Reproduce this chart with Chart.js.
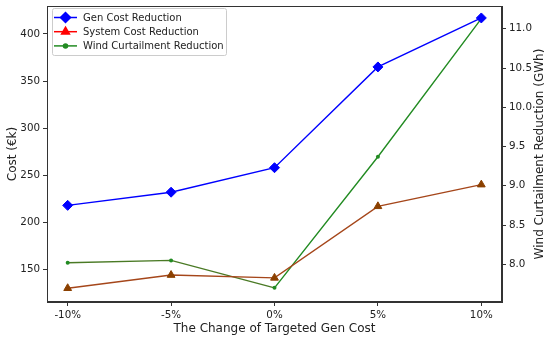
<!DOCTYPE html>
<html>
<head>
<meta charset="utf-8">
<script src="https://cdn.jsdelivr.net/npm/chart.js@4/dist/chart.umd.min.js"></script>
<style>
html,body{margin:0;padding:0;background:#fff;}
#wrap{width:550px;height:337px;position:relative;}
</style>
</head>
<body>
<div id="wrap"><canvas id="c" width="550" height="337"></canvas></div>
<script>
const categories = ['-10%', '-5%', '0%', '5%', '10%'];
const genCost = [218, 232, 258, 365, 417];
const systemCost = [130, 144, 141, 217, 240];
const windCurtailment = [8.02, 8.05, 7.70, 9.37, 11.13];
const seriesNames = ['Gen Cost Reduction', 'System Cost Reduction', 'Wind Curtailment Reduction'];
const xTitle = 'The Change of Targeted Gen Cost';
const yTitle = 'Cost (€k)';
const y2Title = 'Wind Curtailment Reduction (GWh)';

const toPts = arr => arr.map((v, i) => ({x: i, y: v}));
const FONT = 'DejaVu Sans';
const TXT = '#222';
const TICK_SIZE = 10.3;
const TITLE_SIZE = 12;

const legendItems = [
  {label: seriesNames[0], color: '#0000ff', style: 'rectRot', r: 5},
  {label: seriesNames[1], color: '#ff0000', style: 'triangle', r: 4.5},
  {label: seriesNames[2], color: '#228b22', style: 'circle', r: 2}
];

const framePlugin = {
  id: 'frame',
  afterDraw(chart) {
    const ctx = chart.ctx, a = chart.chartArea;
    ctx.save();
    ctx.strokeStyle = '#333';
    ctx.lineWidth = 1;
    ctx.strokeRect(Math.round(a.left) + 0.5, Math.round(a.top) + 0.5, Math.round(a.right - a.left) - 1, Math.round(a.bottom - a.top) - 1);
    // rotated axis titles (both read bottom-to-top)
    const cy = (a.top + a.bottom) / 2;
    ctx.fillStyle = TXT;
    ctx.font = TITLE_SIZE + 'px "' + FONT + '"';
    ctx.textAlign = 'center';
    ctx.textBaseline = 'middle';
    [[12.5, yTitle], [540, y2Title]].forEach(([x, t]) => {
      ctx.save();
      ctx.translate(x, cy);
      ctx.rotate(-Math.PI / 2);
      ctx.fillText(t, 0, 0);
      ctx.restore();
    });
    // legend
    const bx = 52, by = 8, bw = 174, bh = 47;
    ctx.fillStyle = 'rgba(255,255,255,0.8)';
    ctx.strokeStyle = '#ccc';
    ctx.beginPath();
    if (ctx.roundRect) ctx.roundRect(bx + 0.5, by + 0.5, bw, bh, 2); else ctx.rect(bx + 0.5, by + 0.5, bw, bh);
    ctx.fill(); ctx.stroke();
    ctx.font = '10px "' + FONT + '"';
    ctx.textAlign = 'left';
    ctx.textBaseline = 'middle';
    legendItems.forEach((it, i) => {
      const y = by + 9.5 + i * 14.2;
      ctx.strokeStyle = it.color; ctx.lineWidth = 1.5;
      ctx.beginPath(); ctx.moveTo(54, y); ctx.lineTo(77, y); ctx.stroke();
      ctx.fillStyle = it.color;
      Chart.helpers.drawPoint(ctx, {pointStyle: it.style, radius: it.r, borderWidth: 1}, 65.5, y);
      ctx.fill();
      ctx.fillStyle = TXT;
      ctx.fillText(it.label, 83, y + 0.5);
    });
    ctx.restore();
  }
};

new Chart(document.getElementById('c'), {
  type: 'line',
  data: {
    datasets: [
      {
        label: seriesNames[0], data: toPts(genCost), yAxisID: 'y',
        borderColor: '#0000ff', backgroundColor: '#0000ff', borderWidth: 1.4,
        pointStyle: 'rectRot', pointRadius: 5, pointBorderWidth: 1, pointBorderColor: '#0000ff'
      },
      {
        label: seriesNames[1], data: toPts(systemCost), yAxisID: 'y',
        borderColor: '#a5461a', backgroundColor: '#8b4000', borderWidth: 1.4,
        pointStyle: 'triangle', pointRadius: 4.5, pointBorderWidth: 1, pointBorderColor: '#8b4000'
      },
      {
        label: seriesNames[2], data: toPts(windCurtailment), yAxisID: 'y2',
        borderColor: '#228b22', backgroundColor: '#228b22', borderWidth: 1.4,
        segment: { borderColor: c => c.p0DataIndex < 2 ? '#4a7a25' : '#228b22' },
        pointStyle: 'circle', pointRadius: 2, pointBorderWidth: 0
      }
    ]
  },
  options: {
    responsive: false,
    animation: false,
    layout: {padding: {top: 0, left: 0, right: 0, bottom: 0}},
    plugins: {legend: {display: false}, tooltip: {enabled: false}},
    scales: {
      x: {
        type: 'linear', position: 'bottom', min: -0.2, max: 4.2,
        afterBuildTicks: s => { s.ticks = categories.map((_, i) => ({value: i})); },
        afterFit: s => { s.height = 35; },
        ticks: { callback: v => categories[v], font: {family: FONT, size: TICK_SIZE}, color: TXT, padding: 3, maxRotation: 0 },
        grid: { drawOnChartArea: false, drawTicks: true, tickLength: 4, color: '#333' },
        border: { display: true, color: '#333' },
        title: { display: true, text: xTitle, font: {family: FONT, size: TITLE_SIZE}, color: TXT, padding: {top: 0, bottom: 1} }
      },
      y: {
        type: 'linear', position: 'left', min: 115.4, max: 429.7,
        afterBuildTicks: s => { s.ticks = [150, 200, 250, 300, 350, 400].map(v => ({value: v})); },
        afterFit: s => { s.width = 47; s.paddingTop = 0; s.paddingBottom = 0; },
        ticks: { font: {family: FONT, size: TICK_SIZE}, color: TXT, padding: 3 },
        grid: { drawOnChartArea: false, drawTicks: true, tickLength: 4, color: '#333' },
        border: { display: true, color: '#333' }
      },
      y2: {
        type: 'linear', position: 'right', min: 7.52, max: 11.29,
        afterBuildTicks: s => { s.ticks = [8.0, 8.5, 9.0, 9.5, 10.0, 10.5, 11.0].map(v => ({value: v})); },
        afterFit: s => { s.width = 48; s.paddingTop = 0; s.paddingBottom = 0; },
        ticks: { callback: v => v.toFixed(1), font: {family: FONT, size: TICK_SIZE}, color: TXT, padding: 3 },
        grid: { drawOnChartArea: false, drawTicks: true, tickLength: 4, color: '#333' },
        border: { display: true, color: '#333' }
      }
    }
  },
  plugins: [framePlugin]
});
</script>
</body>
</html>
